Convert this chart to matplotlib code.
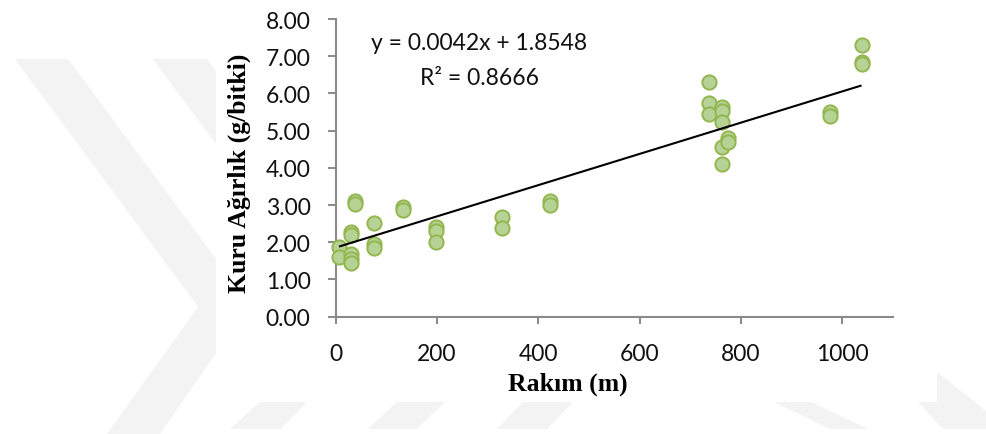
import matplotlib
matplotlib.use("Agg")
import matplotlib.pyplot as plt
from matplotlib.patches import Polygon, Rectangle

# Altitude (m) and dry weight (g/plant) per sampled plant
rakim = [7, 7,
         30, 30, 30, 30, 30,
         38, 38,
         75, 75, 75,
         133, 133,
         198, 198, 198,
         328, 328,
         423, 423,
         737, 737, 737,
         763, 763, 763, 763, 763,
         775, 775,
         976, 976,
         1038, 1038, 1038]
kuru_agirlik = [1.87, 1.60,
                2.27, 2.20, 1.69, 1.55, 1.45,
                3.12, 3.03,
                2.52, 1.95, 1.84,
                2.94, 2.88,
                2.40, 2.29, 2.00,
                2.67, 2.38,
                3.12, 3.01,
                6.30, 5.74, 5.45,
                5.63, 5.54, 5.24, 4.55, 4.10,
                4.80, 4.70,
                5.49, 5.39,
                7.31, 6.85, 6.78]

# Linear trend reported on the chart
egim = 0.0042
kesisim = 1.8548
r_kare = 0.8666

x_ticks = [0, 200, 400, 600, 800, 1000]
y_ticks = [0, 1, 2, 3, 4, 5, 6, 7, 8]

W, H = 986, 435
fig = plt.figure(figsize=(W / 100, H / 100), dpi=100)
fig.patch.set_facecolor("white")


def fx(px):
    return px / W


def fy(py):
    return 1 - py / H


# faint background logo bands around the chart box
wm = "#f3f3f3"
bands = [
    [(15, 60), (68, 60), (216, 260), (216, 332)],
    [(153, 60), (207, 60), (216, 72), (216, 145)],
    [(107, 435), (160, 435), (216, 354), (216, 283)],
    [(260, 403), (307, 403), (280, 430), (230, 430)],
    [(397, 403), (445, 403), (417, 430), (368, 430)],
    [(523, 403), (573, 403), (547, 430), (497, 430)],
    [(774, 403), (811, 403), (868, 430), (830, 430)],
    [(917, 402), (937, 402), (937, 373), (986, 412), (986, 430), (943, 430)],
]
for b in bands:
    fig.add_artist(Polygon([(fx(x), fy(y)) for x, y in b], closed=True,
                           transform=fig.transFigure, facecolor=wm,
                           edgecolor="none", zorder=-3))
fig.add_artist(Rectangle((fx(216), fy(403)), fx(937) - fx(216), fy(0) - fy(403),
                         transform=fig.transFigure, facecolor="white",
                         edgecolor="none", zorder=-2))

left, right, top, bottom = 335.5, 893, 20, 317.7
ax = fig.add_axes([fx(left), fy(bottom), fx(right) - fx(left), (bottom - top) / H])
ax.set_facecolor("none")

ax.scatter(rakim, kuru_agirlik, s=105, facecolor="#b6d294", edgecolor="#93b64f",
           linewidths=1.4, zorder=3, clip_on=False)

x0, x1 = min(rakim), max(rakim)
ax.plot([x0, x1], [egim * x0 + kesisim, egim * x1 + kesisim], color="black",
        lw=1.5, zorder=4, solid_capstyle="butt")

ax.set_xlim(0, 1100)
ax.set_ylim(0, 8)
ax.set_xticks(x_ticks)
ax.set_xticklabels([str(v) for v in x_ticks])
ax.set_yticks(y_ticks)
ax.set_yticklabels([f"{v:.2f}" for v in y_ticks])

gray = "#8a8a8a"
for s in ["top", "right"]:
    ax.spines[s].set_visible(False)
for s in ["left", "bottom"]:
    ax.spines[s].set_color(gray)
    ax.spines[s].set_linewidth(1.5)

ax.tick_params(axis="y", direction="out", length=6, width=1.4, color=gray,
               pad=12, labelsize=16.5, labelcolor="#111111")
ax.tick_params(axis="x", direction="out", length=5, width=1.4, color=gray,
               pad=14, labelsize=16.5, labelcolor="#111111")
for lab in ax.get_xticklabels() + ax.get_yticklabels():
    lab.set_fontfamily("Lato")

# regression equation
fig.text(fx(479), fy(50), f"y = {egim}x + {kesisim}", ha="center", va="baseline",
         fontfamily="Lato", fontsize=16.5, color="#111111")
fig.text(fx(479), fy(85), f"R² = {r_kare}", ha="center", va="baseline",
         fontfamily="Lato", fontsize=16.5, color="#111111")

# axis titles
fig.text(fx(568), fy(391), "Rakım (m)", ha="center", va="baseline",
         fontfamily="Liberation Serif", fontweight="bold", fontsize=18.5)
fig.text(fx(239), fy(173), "Kuru Ağırlık (g/bitki)", ha="center", va="center",
         rotation=90, fontfamily="Liberation Serif", fontweight="bold",
         fontsize=18.5)

fig.savefig("out.png", dpi=100)
